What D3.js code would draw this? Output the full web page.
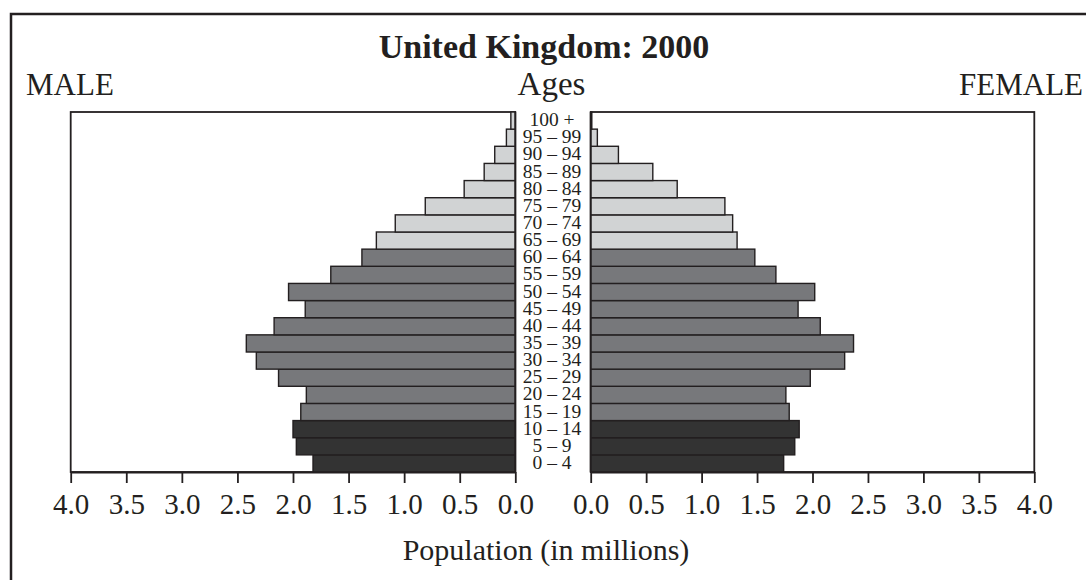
<!DOCTYPE html>
<html>
<head>
<meta charset="utf-8">
<script src="https://cdn.jsdelivr.net/npm/d3@7"></script>
<style>
  html, body { margin: 0; padding: 0; background: #fff; }
  svg { display: block; }
  text { font-family: "Liberation Serif", "Times New Roman", serif; fill: #231f20; }
</style>
</head>
<body>
<svg id="chart" width="1086" height="580"></svg>
<script>
// ---- Data ----
const ageGroups = ["0 – 4","5 – 9","10 – 14","15 – 19","20 – 24","25 – 29","30 – 34","35 – 39","40 – 44","45 – 49",
                   "50 – 54","55 – 59","60 – 64","65 – 69","70 – 74","75 – 79","80 – 84","85 – 89","90 – 94","95 – 99","100 +"];
const maleValues = [1.82,1.97,2.00,1.93,1.88,2.13,2.33,2.42,2.17,1.89,2.04,1.66,1.38,1.25,1.08,0.81,0.46,0.28,0.185,0.08,0.04];
const femaleValues = [1.74,1.84,1.88,1.79,1.76,1.98,2.29,2.37,2.07,1.87,2.02,1.67,1.48,1.32,1.28,1.21,0.78,0.56,0.25,0.06,0.01];
// age class per group: 0 = youth (0-14), 1 = working (15-64), 2 = elderly (65+)
const ageClass = [0,0,0,1,1,1,1,1,1,1,1,1,1,2,2,2,2,2,2,2,2];
const xTicks = [0,0.5,1,1.5,2,2.5,3,3.5,4];
const titleText = "United Kingdom: 2000";
const maleLabel = "MALE", femaleLabel = "FEMALE", agesLabel = "Ages";
const xAxisTitle = "Population (in millions)";

(function () {
// ---- Layout ----
const svg = d3.select("#chart");
const plotTop = 112, plotBottom = 472;
const leftL = 70.7, leftR = 515.3, rightL = 590.7, rightR = 1034.3;
const fills = ["#333333", "#77787b", "#d1d3d4"];
const ink = "#231f20";

// outer frame
svg.append("rect").attr("x", 11).attr("y", 14).attr("width", 1200).attr("height", 700)
  .attr("fill", "none").attr("stroke", ink).attr("stroke-width", 2.5);

const y = d3.scaleBand().domain(ageGroups.slice().reverse()).range([plotTop, plotBottom]).padding(0);
const xM = d3.scaleLinear().domain([0, 4]).range([leftR, leftL]);
const xF = d3.scaleLinear().domain([0, 4]).range([rightL, rightR]);

// panel frames
[[leftL, leftR], [rightL, rightR]].forEach(([a, b]) => {
  svg.append("rect").attr("x", a).attr("y", plotTop).attr("width", b - a).attr("height", plotBottom - plotTop)
    .attr("fill", "none").attr("stroke", ink).attr("stroke-width", 1.8);
});

// bars
const rows = ageGroups.map((g, i) => ({ g, m: maleValues[i], f: femaleValues[i], c: ageClass[i] }));
svg.append("g").selectAll("rect").data(rows).join("rect")
  .attr("x", d => xM(d.m)).attr("y", d => y(d.g))
  .attr("width", d => xM(0) - xM(d.m)).attr("height", y.bandwidth())
  .attr("fill", d => fills[d.c]).attr("stroke", ink).attr("stroke-width", 1.4);
svg.append("g").selectAll("rect").data(rows).join("rect")
  .attr("x", xF(0)).attr("y", d => y(d.g))
  .attr("width", d => xF(d.f) - xF(0)).attr("height", y.bandwidth())
  .attr("fill", d => fills[d.c]).attr("stroke", ink).attr("stroke-width", 1.4);

// re-draw zero lines on top
[leftR, rightL].forEach(xx => svg.append("line").attr("x1", xx).attr("x2", xx).attr("y1", plotTop).attr("y2", plotBottom)
  .attr("stroke", ink).attr("stroke-width", 1.8));

// age labels
svg.append("g").selectAll("text").data(ageGroups).join("text")
  .attr("x", 552).attr("y", d => y(d) + y.bandwidth() / 2 + 5.5)
  .attr("text-anchor", "middle").attr("font-size", "19.5px").text(d => d);

// axes
function styleAxis(g) {
  g.select(".domain").attr("stroke", ink).attr("stroke-width", 1.8);
  g.selectAll(".tick line").attr("stroke", ink).attr("stroke-width", 1.8);
  g.selectAll(".tick text").attr("font-size", "29px").attr("font-family", "Liberation Serif, serif").attr("fill", ink);
}
svg.append("g").attr("transform", `translate(0,${plotBottom})`)
  .call(d3.axisBottom(xM).tickValues(xTicks).tickFormat(d3.format(".1f")).tickSizeInner(11).tickSizeOuter(0).tickPadding(10))
  .call(styleAxis);
svg.append("g").attr("transform", `translate(0,${plotBottom})`)
  .call(d3.axisBottom(xF).tickValues(xTicks).tickFormat(d3.format(".1f")).tickSizeInner(11).tickSizeOuter(0).tickPadding(10))
  .call(styleAxis);

// titles
svg.append("text").attr("x", 544).attr("y", 58).attr("text-anchor", "middle")
  .attr("font-size", "34px").attr("font-weight", "bold").text(titleText);
svg.append("text").attr("x", 26).attr("y", 95).attr("font-size", "31px").text(maleLabel);
svg.append("text").attr("x", 1083).attr("y", 95).attr("text-anchor", "end").attr("font-size", "31px").text(femaleLabel);
svg.append("text").attr("x", 551.5).attr("y", 95).attr("text-anchor", "middle").attr("font-size", "33px").text(agesLabel);
svg.append("text").attr("x", 546).attr("y", 560).attr("text-anchor", "middle").attr("font-size", "30px").text(xAxisTitle);
})();
</script>
</body>
</html>
